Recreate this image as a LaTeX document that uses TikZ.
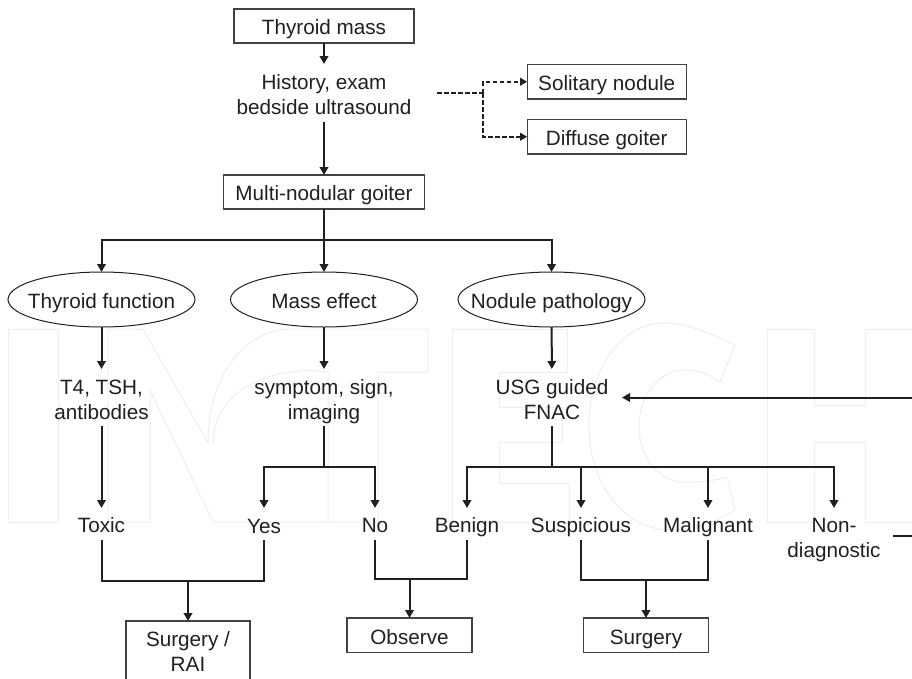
\documentclass[tikz,border=0pt]{standalone}
\usepackage{fontspec}
\setmainfont{Liberation Sans}
\usetikzlibrary{arrows.meta,shapes.geometric}
\definecolor{ink}{HTML}{231F20}
\definecolor{wm}{HTML}{EEEEEE}
\tikzset{
  x=1pt,y=-1pt,
  basen/.style={anchor=north,inner sep=0pt,outer sep=0pt,text=ink,align=center,
    font=\fontsize{20.7pt}{24.7pt}\selectfont},
  boxn/.style={basen,draw=ink!85,line width=1.2pt},
  oval/.style={basen,ellipse,draw=ink,line width=1pt,minimum width=187pt,minimum height=55pt,text height=17pt,text depth=0pt},
  lab/.style={basen},
  conn/.style={draw=ink,line width=2pt},
  arr/.style={conn,-{Triangle[length=8pt,width=8.5pt]}},
  dsh/.style={draw=ink,line width=1.8pt,dash pattern=on 4.5pt off 2.5pt},
  dsharr/.style={dsh,-{Triangle[length=7pt,width=7.5pt]}},
  wmark/.style={draw=wm,line width=1pt,line join=round},
}
\begin{document}
\begin{tikzpicture}
\useasboundingbox (0,0) rectangle (912,678);
\clip (0,0) rectangle (912,678);
\fill[white] (0,0) rectangle (912,678);
% faint background lettering
\draw[wmark] (8,329) rectangle (58,522);
\draw[wmark] (108,522) -- (150,522) -- (150,390) -- (213,522) -- (328,522) -- (328,372) .. controls (280,365) and (213,385) .. (213,445);
\draw[wmark] (108,522) -- (108,329) -- (143,329) -- (208,443) .. controls (208,370) and (250,329) .. (290,329) -- (428,329) -- (428,372) -- (378,372) -- (378,522) -- (328,522);
\draw[wmark] (452,329) -- (567,329) -- (567,372) -- (499,372) -- (499,407) -- (562,407) -- (562,442) -- (499,442) -- (499,483) -- (569,483) -- (569,522) -- (452,522) -- cycle;
\draw[wmark] (735,345) .. controls (700,328) and (680,323) .. (665,323) .. controls (620,323) and (589,370) .. (589,426) .. controls (589,485) and (625,530) .. (670,530) .. controls (695,530) and (715,522) .. (735,510) -- (727,477) .. controls (710,482) and (700,482) .. (685,482) .. controls (660,482) and (639,460) .. (639,426) .. controls (639,395) and (660,370) .. (685,370) .. controls (700,370) and (710,375) .. (720,382) -- cycle;
\draw[wmark] (767,329) -- (814,329) -- (814,405) -- (865,405) -- (865,329) -- (925,329) -- (925,522) -- (865,522) -- (865,442) -- (814,442) -- (814,522) -- (767,522) -- cycle;

% nodes
\node[boxn,minimum width=180pt,text height=25pt,text depth=9pt] (tm) at (324,9) {Thyroid mass};
\node[lab,minimum width=226pt,text height=50pt,text depth=8pt] (hx) at (324,64) {History, exam\\bedside ultrasound};
\node[boxn,minimum width=201pt,text height=25pt,text depth=9pt] (mn) at (324,175) {Multi-nodular goiter};
\node[boxn,minimum width=159pt,text height=25.5pt,text depth=9pt] (sn) at (606.7,64.5) {Solitary nodule};
\node[boxn,minimum width=159pt,text height=25.5pt,text depth=9pt] (dg) at (606.7,119.5) {Diffuse goiter};
\node[oval] (tf) at (101.5,272) {\makebox[0pt]{Thyroid function}};
\node[oval] (me) at (324,272) {\makebox[0pt]{Mass effect}};
\node[oval] (np) at (551.5,272) {\makebox[0pt]{Nodule pathology}};
\node[lab,text height=50pt,text depth=7pt,minimum width=100pt] (t4) at (101.5,369) {T4, TSH,\\antibodies};
\node[lab,text height=50pt,text depth=7pt,minimum width=100pt] (sy) at (324,369) {symptom, sign,\\imaging};
\node[lab,text height=50pt,text depth=7pt,minimum width=140pt] (us) at (552,369) {USG guided\\FNAC};
\node[lab,text height=24pt,text depth=8pt] (to) at (101.5,508) {Toxic};
\node[lab,text height=25pt,text depth=7pt] (ye) at (264,508) {Yes};
\node[lab,text height=24pt,text depth=8pt] (no) at (375,508) {No};
\node[lab,text height=24pt,text depth=8pt] (be) at (467,508) {Benign};
\node[lab,text height=24pt,text depth=8pt] (su) at (581,508) {Suspicious};
\node[lab,text height=24pt,text depth=8pt] (ma) at (708,508) {Malignant};
\node[lab,text height=49pt,text depth=7pt,minimum width=118pt] (nd) at (834,508) {Non-\\diagnostic};
\node[boxn,minimum width=124pt,text height=50pt,text depth=29pt] (sr) at (188,621) {Surgery /\\RAI};
\node[boxn,minimum width=125pt,text height=26pt,text depth=8.5pt] (ob) at (409.5,618) {Observe};
\node[boxn,minimum width=125pt,text height=26pt,text depth=8.5pt] (sg) at (646,618) {Surgery};

% junctions
\coordinate (j1) at (324,240);
\coordinate (j2) at (324,467);
\coordinate (j3) at (552,467);
\coordinate (jd) at (483,93);
\coordinate (m1) at (188,581);
\coordinate (m2) at (409.5,579);
\coordinate (m3) at (646,579.5);
\coordinate (r1) at (912,397.5);
\coordinate (r2) at (912,536);

% connectors
\draw[arr] (tm) -- (hx);
\draw[arr] (hx) -- (mn);
\draw[conn] (mn) -- (j1);
\draw[arr] (j1) -- (me);
\draw[arr] (j1) -| (tf.north);
\draw[arr] (j1) -| (np.north);
\draw[arr] (tf) -- (t4);
\draw[arr] (me) -- (sy);
\draw[arr] (np) -- (us);
\draw[arr] (t4) -- (to);
\draw[conn] (sy) -- (j2);
\draw[arr] (j2) -| (ye.north);
\draw[arr] (j2) -| (no.north);
\draw[conn] (us) -- (j3);
\draw[arr] (j3) -| (be.north);
\draw[arr] (j3) -| (su.north);
\draw[arr] (j3) -| (ma.north);
\draw[arr] (j3) -| (nd.north);
\draw[conn] (to.south) |- (m1) -| (ye.south);
\draw[arr] (m1) -- (sr);
\draw[conn] (no.south) |- (m2) -| (be.south);
\draw[arr] (m2) -- (ob);
\draw[conn] (su.south) |- (m3) -| (ma.south);
\draw[arr] (m3) -- (sg);
\draw[arr] (r1) -- (us);
\draw[conn] (nd) -- (r2);
\draw[dsh] (hx) -- (jd);
\draw[dsharr] (jd) |- (sn);
\draw[dsharr] (jd) |- (dg);
\end{tikzpicture}
\end{document}
